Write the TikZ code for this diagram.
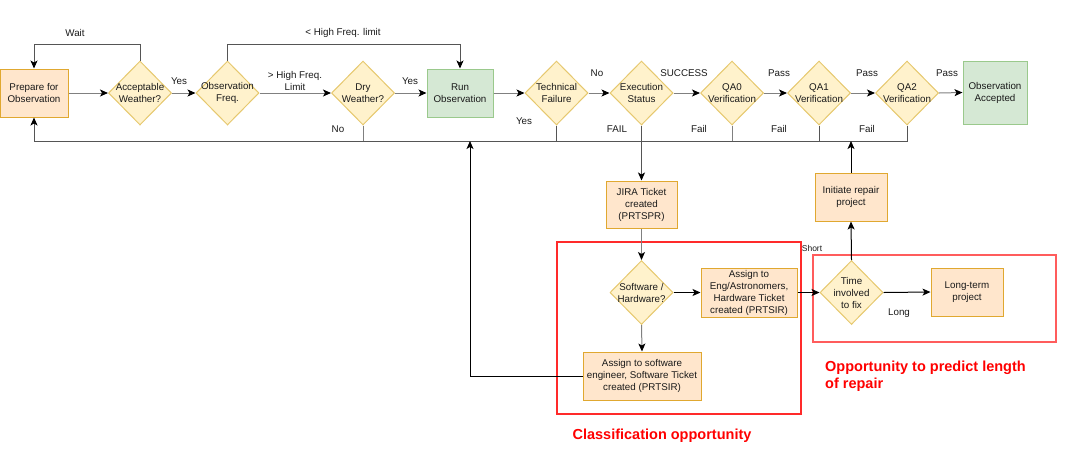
\documentclass[tikz,border=0pt]{standalone}
\usepackage{fontspec}
\setmainfont{Liberation Sans}
\usetikzlibrary{shapes.geometric,arrows.meta}
\definecolor{orfill}{HTML}{FFE6CC}
\definecolor{ordraw}{HTML}{E0A830}
\definecolor{yefill}{HTML}{FFF2CC}
\definecolor{yedraw}{HTML}{E6C86E}
\definecolor{grfill}{HTML}{D5E8D4}
\definecolor{grdraw}{HTML}{9AC98C}
\definecolor{lgrey}{HTML}{808080}
\definecolor{dgrey}{HTML}{555555}
\definecolor{redA}{HTML}{FF2A2A}
\definecolor{redB}{HTML}{FF5C5C}
\definecolor{txt}{HTML}{1A1A1A}
\begin{document}
\begin{tikzpicture}[x=1pt,y=-1pt,
  font=\fontsize{9.8}{12}\selectfont,
  text=txt,
  base/.style={inner sep=0pt,align=center,line width=1pt},
  obox/.style={base,rectangle,fill=orfill,draw=ordraw},
  gbox/.style={base,rectangle,fill=grfill,draw=grdraw},
  dia/.style={base,diamond,fill=yefill,draw=yedraw,minimum width=63pt,minimum height=64pt},
  dtext/.style={align=center,inner sep=0pt},
  tip/.style={-{Stealth[length=8pt,width=7pt,inset=2pt,color=black]}},
  gl/.style={line width=1pt,draw=lgrey},
  dl/.style={line width=1pt,draw=dgrey},
  kl/.style={line width=1pt,draw=black},
  lab/.style={inner sep=0pt,align=center},
  redbox/.style={line width=1.2pt},
  redtext/.style={text=red,font=\fontsize{14.5}{17}\selectfont\bfseries,inner sep=0pt}
]
\useasboundingbox (0,0) rectangle (1067,459);

% red regions
\draw[redbox,draw=redA] (557,242) rectangle (801,414);
\draw[redbox,draw=redB] (813,255) rectangle (1056,342);

% top row
\node[obox,minimum width=68pt,minimum height=48pt] (prep) at (34,93) {Prepare for\\Observation};
\node[dia] (acc) at (140,93) {};
\node[dtext] at (acc) {Acceptable\\Weather?};
\node[dia] (freq) at (227.5,93) {};
\node[dtext] at (freq) {Observation\\Freq.};
\node[dia] (dry) at (363,93) {};
\node[dtext] at (dry) {Dry\\Weather?};
\node[gbox,minimum width=66pt,minimum height=48pt] (run) at (460,93) {Run\\Observation};
\node[dia] (tech) at (556.5,93) {};
\node[dtext] at (tech) {Technical\\Failure};
\node[dia] (exec) at (641.5,93) {};
\node[dtext] at (exec) {Execution\\Status};
\node[dia] (qa0) at (732,93) {};
\node[dtext] at (qa0) {QA0\\Verification};
\node[dia] (qa1) at (819,93) {};
\node[dtext] at (qa1) {QA1\\Verification};
\node[dia] (qa2) at (907,93) {};
\node[dtext] at (qa2) {QA2\\Verification};
\node[gbox,minimum width=64pt,minimum height=63pt] (ok) at (995,92.5) {Observation\\Accepted};

% lower part
\node[obox,minimum width=71pt,minimum height=47pt] (jira) at (641.5,204.5) {JIRA Ticket\\created\\(PRTSPR)};
\node[dia] (swhw) at (641.5,292.5) {};
\node[dtext] at (swhw) {Software /\\Hardware?};
\node[obox,minimum width=96pt,minimum height=49pt] (eng) at (749,292.5) {Assign to\\Eng/Astronomers,\\Hardware Ticket\\created (PRTSIR)};
\node[obox,minimum width=118pt,minimum height=48pt] (sw) at (642,376) {Assign to software\\engineer, Software Ticket\\created (PRTSIR)};
\node[dia] (time) at (851.5,292.5) {};
\node[dtext] at (time) {Time\\involved\\to fix};
\node[obox,minimum width=72pt,minimum height=48pt] (init) at (851,197) {Initiate repair\\project};
\node[obox,minimum width=72pt,minimum height=48pt] (long) at (967,292) {Long-term\\project};

% feedback coordinates
\coordinate (fbL) at (34,141);
\coordinate (fbR) at (907,141);
\coordinate (fbS) at (470,141);

% top row connectors
\draw[gl,tip] (prep.east) -- (acc.west);
\draw[gl,tip] (acc.east) -- (freq.west);
\draw[gl,tip] (freq.east) -- (dry.west);
\draw[gl,tip] (dry.east) -- (run.west);
\draw[gl,tip] (run.east) -- (tech.west);
\draw[gl,tip] (tech.east) -- (exec.west);
\draw[gl,tip] (exec.east) -- (qa0.west);
\draw[gl,tip] (qa0.east) -- (qa1.west);
\draw[gl,tip] (qa1.east) -- (qa2.west);
\draw[gl,tip] (qa2.east) -- (ok.west);

% loops above
\draw[dl,tip] (acc.north) -- ++(0,-16.5) -| (prep.north);
\draw[dl,tip] (freq.north) -- ++(0,-16.5) -| (run.north);

% feedback line below
\draw[dl] (qa2.south) -- (fbR) -- (fbL);
\draw[dl,tip] (fbL) -- (prep.south);
\draw[gl] (dry.south) -- (dry.south |- fbL);
\draw[dl] (tech.south) -- (tech.south |- fbL);
\draw[gl] (qa0.south) -- (qa0.south |- fbL);
\draw[dl] (qa1.south) -- (qa1.south |- fbL);

% lower connectors
\draw[dl,tip] (exec.south) -- (jira.north);
\draw[gl,tip] (jira.south) -- (swhw.north);
\draw[kl,tip] (swhw.east) -- (eng.west);
\draw[gl,tip] (swhw.south) -- (sw.north);
\draw[kl,tip] (sw.west) -| (fbS);
\draw[kl,tip] (eng.east) -- (time.west);
\draw[kl,tip] (time.north) -- (init.south);
\draw[kl,tip] (init.north) -- (init.north |- fbL);
\draw[kl,tip] (time.east) -- (long.west);

% labels
\node[lab] (lwait) at (75,33) {Wait};
\node[lab] (lhfl) at (343,33) {< High Freq. limit};
\node[lab] (ly1) at (179,81) {Yes};
\node[lab] (lhfg) at (295,80.5) {> High Freq.\\Limit};
\node[lab] (ly2) at (410,81) {Yes};
\node[lab] (ln1) at (338,129) {No};
\node[lab] (ln2) at (597,73) {No};
\node[lab] (ly3) at (524,121) {Yes};
\node[lab] (lsucc) at (684,73) {SUCCESS};
\node[lab] (lfail) at (617,129) {FAIL};
\node[lab] (lp0) at (779,73) {Pass};
\node[lab] (lp1) at (867,73) {Pass};
\node[lab] (lp2) at (947,73) {Pass};
\node[lab] (lf0) at (699,129) {Fail};
\node[lab] (lf1) at (779,129) {Fail};
\node[lab] (lf2) at (867,129) {Fail};
\node[lab,font=\fontsize{8.5}{10}\selectfont] (lshort) at (812,248) {Short};
\node[lab] (llong) at (899,313) {Long};

% red texts
\node[redtext,anchor=west] (rt1) at (825,368) {Opportunity to predict length};
\node[redtext,anchor=west] (rt2) at (825,385) {of repair};
\node[redtext] (rt3) at (662,436) {Classification opportunity};
\end{tikzpicture}
\end{document}
